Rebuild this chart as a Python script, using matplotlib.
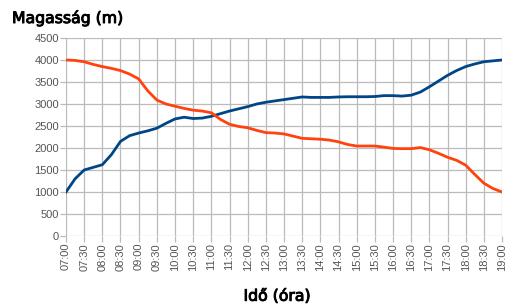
import matplotlib.pyplot as plt
import matplotlib.patheffects as pe

# 15 minute readings, 07:00 .. 19:00
minutes = list(range(0, 12 * 60 + 1, 15))

blue = [1000, 1300, 1500, 1560, 1620, 1850, 2150, 2280, 2340, 2390, 2450, 2560,
        2660, 2700, 2670, 2680, 2720, 2780, 2840, 2890, 2940, 3000, 3040, 3070,
        3100, 3130, 3160, 3150, 3150, 3150, 3160, 3165, 3165, 3165, 3170, 3190,
        3190, 3180, 3200, 3270, 3390, 3520, 3650, 3760, 3850, 3910, 3960, 3980,
        4000]

red = [4000, 3990, 3960, 3900, 3850, 3810, 3760, 3680, 3570, 3300, 3090, 3000,
       2950, 2900, 2860, 2840, 2800, 2650, 2540, 2490, 2460, 2400, 2350, 2340,
       2320, 2270, 2220, 2210, 2200, 2180, 2140, 2080, 2045, 2045, 2045, 2020,
       1990, 1985, 1985, 2010, 1960, 1880, 1790, 1720, 1610, 1400, 1200, 1080,
       1000]

tick_pos = list(range(0, 12 * 60 + 1, 30))
tick_labels = ["%02d:%02d" % (7 + m // 60, m % 60) for m in tick_pos]

fig = plt.figure(figsize=(5.06, 3.06), dpi=100)
ax = fig.add_axes([66 / 506, 1 - 236 / 306, 436 / 506, 198 / 306])

ax.plot(minutes, blue, color="#004586", lw=2, solid_joinstyle="round", zorder=3)
ax.plot(minutes, red, color="#ff420e", lw=2, solid_joinstyle="round", zorder=3)

ax.set_xlim(0, 720)
ax.set_ylim(0, 4500)
ax.set_xticks(tick_pos)
ax.set_xticklabels(tick_labels, rotation=90)
ax.set_yticks(range(0, 4501, 500))

ax.grid(True, color="#bbbbbb", lw=0.9)
for s in ax.spines.values():
    s.set_visible(False)
ax.tick_params(colors="#bbbbbb", labelcolor="#555555", length=4, width=0.9,
               labelsize=8, pad=1)
for lab in ax.get_xticklabels() + ax.get_yticklabels():
    lab.set_fontfamily("Liberation Sans")

# slightly heavier than regular, lighter than bold
thick = [pe.withStroke(linewidth=0.7, foreground="black")]
fig.text(12 / 506, 1 - 18 / 306, "Magasság (m)", fontsize=11.3,
         va="center", ha="left", path_effects=thick)
fig.text(277 / 506, 1 - 296 / 306, "Idő (óra)", fontsize=11.3,
         va="center", ha="center", path_effects=thick)

plt.savefig("out.png", dpi=100)
plt.close(fig)
